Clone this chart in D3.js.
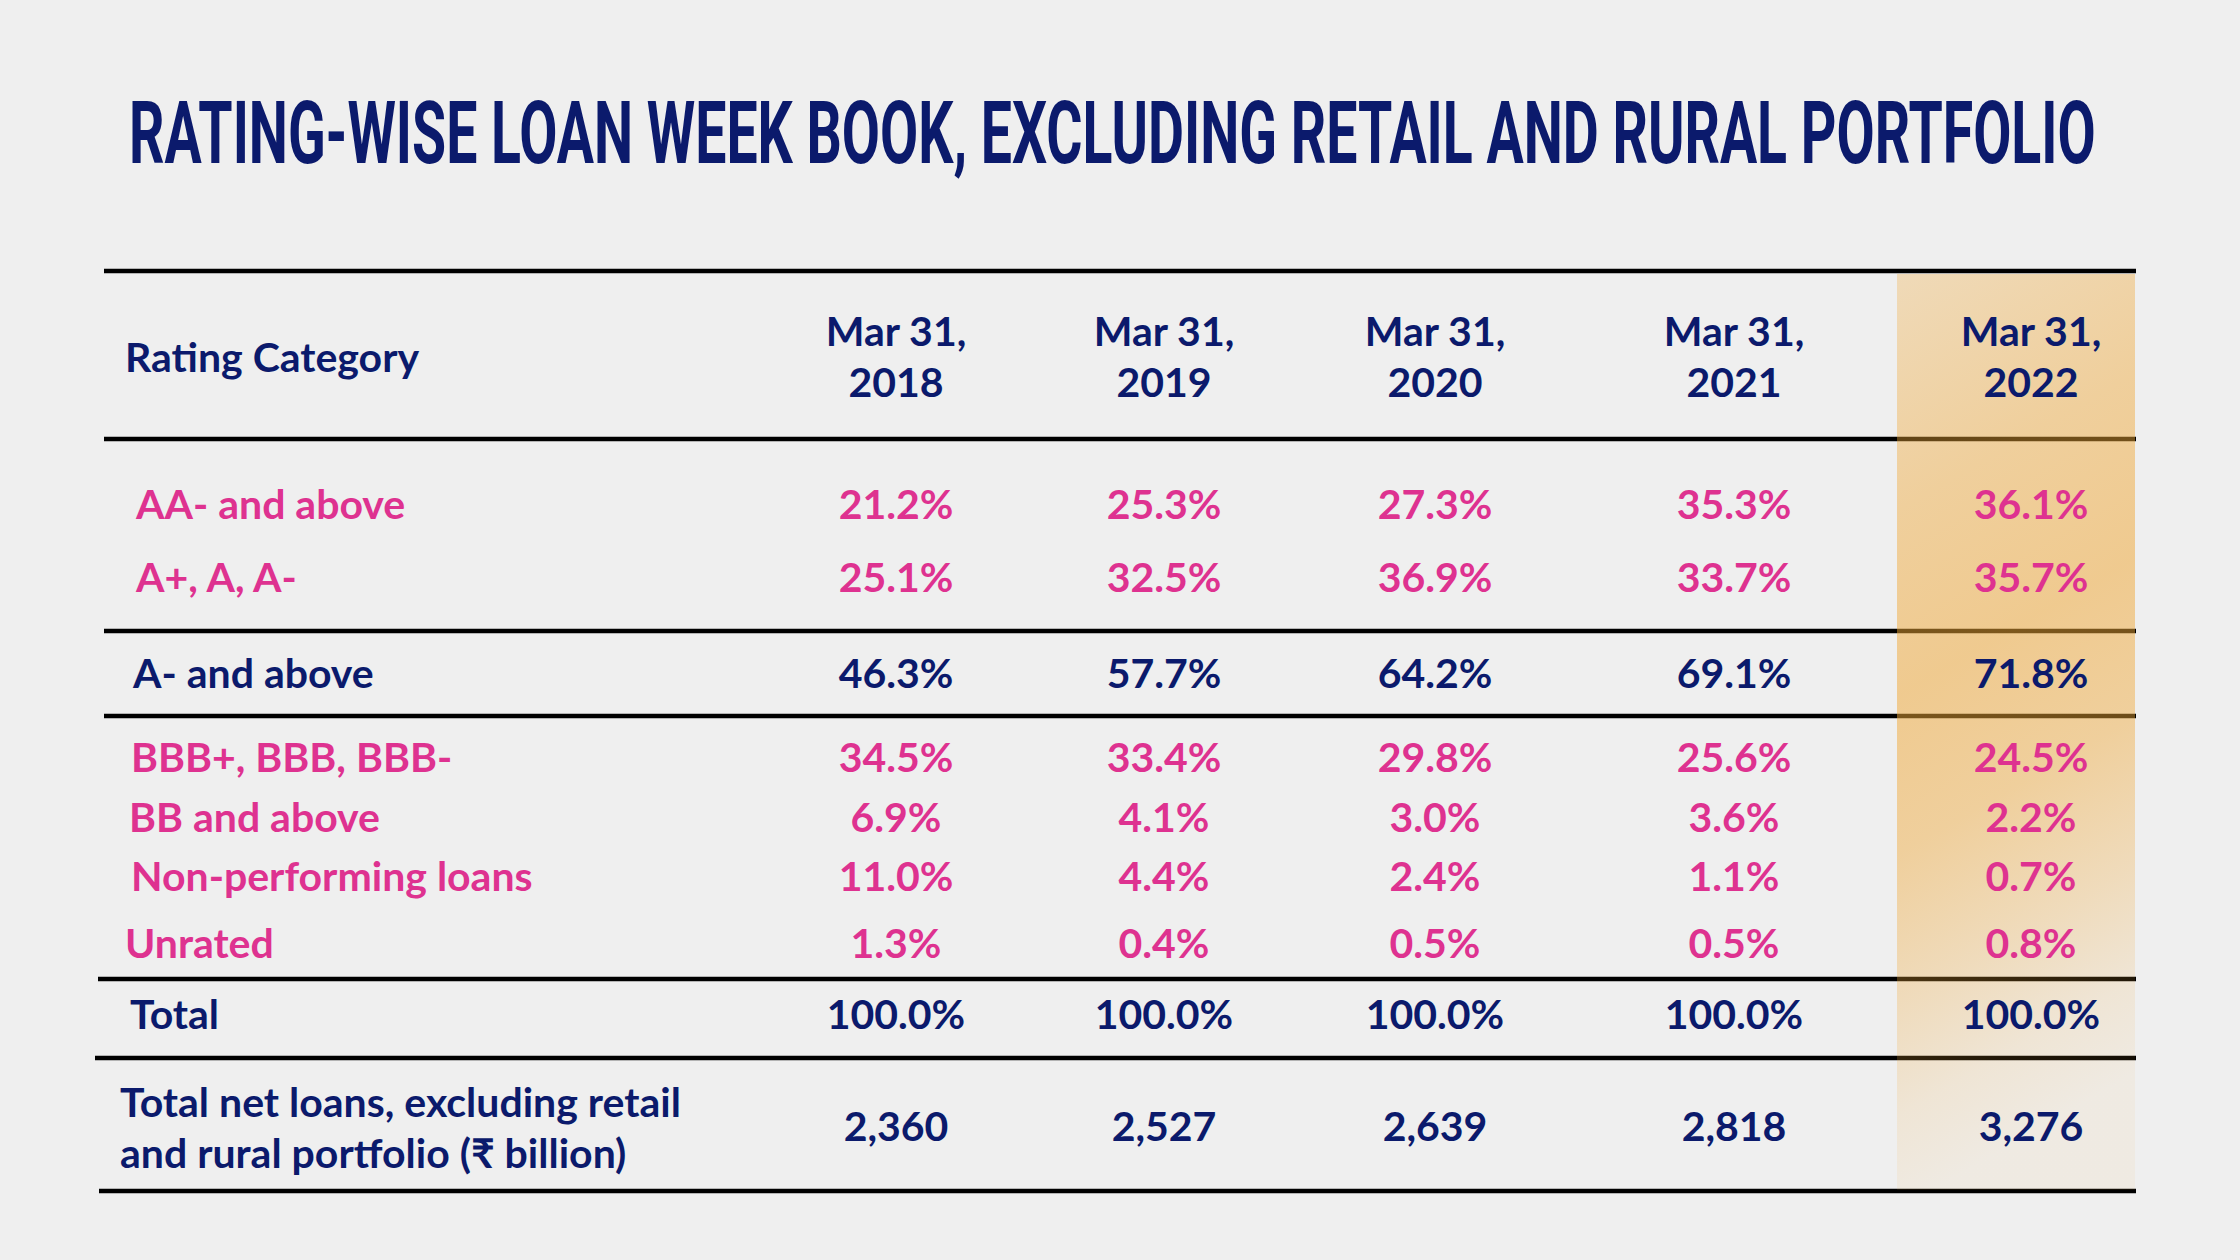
<!DOCTYPE html>
<html>
<head>
<meta charset="utf-8">
<script src="https://cdn.jsdelivr.net/npm/d3@7"></script>
<style>
  html, body { margin: 0; padding: 0; background: #efefef; }
  svg { display: block; }
</style>
</head>
<body>
<svg id="chart" width="2240" height="1260"></svg>
<script>
// ---------- data ----------
const title = "RATING-WISE LOAN WEEK BOOK, EXCLUDING RETAIL AND RURAL PORTFOLIO";
const headerLabel = "Rating Category";
const years = ["2018", "2019", "2020", "2021", "2022"];
const categories = ["AA- and above", "A+, A, A-", "A- and above", "BBB+, BBB, BBB-",
                    "BB and above", "Non-performing loans", "Unrated", "Total"];
const aaAndAbove   = [21.2, 25.3, 27.3, 35.3, 36.1];
const aPlusAMinus  = [25.1, 32.5, 36.9, 33.7, 35.7];
const aMinusAbove  = [46.3, 57.7, 64.2, 69.1, 71.8];
const bbbGroup     = [34.5, 33.4, 29.8, 25.6, 24.5];
const bbAndAbove   = [6.9, 4.1, 3.0, 3.6, 2.2];
const nonPerforming = [11.0, 4.4, 2.4, 1.1, 0.7];
const unrated      = [1.3, 0.4, 0.5, 0.5, 0.8];
const totals       = [100.0, 100.0, 100.0, 100.0, 100.0];
const netLoansLabel = ["Total net loans, excluding retail", "and rural portfolio (\u20B9 billion)"];
const netLoans     = [2360, 2527, 2639, 2818, 3276];

// ---------- styling / layout ----------
const NAVY = "#0b1a6c", PINK = "#de3290";
const FONT = "Lato, 'Open Sans', sans-serif";
const FS = 41;
const seriesByCat = [aaAndAbove, aPlusAMinus, aMinusAbove, bbbGroup, bbAndAbove, nonPerforming, unrated, totals];
const kindByCat = ["sub", "sub", "sum", "sub", "sub", "sub", "sub", "sum"];

const svg = d3.select("#chart");
svg.append("rect").attr("width", 2240).attr("height", 1260).attr("fill", "#efefef");

// column x positions
const xCol = d3.scaleOrdinal().domain(years).range([896, 1164, 1435, 1734, 2031]);
// row baselines
const yRow = d3.scaleOrdinal().domain(categories).range([519, 592, 688, 772, 832, 891, 958, 1029]);
const labelX = d3.scaleOrdinal().domain(categories).range([136, 136, 133, 131, 129, 131, 125, 130]);

const pct = v => d3.format(".1f")(v) + "%";
const num = d3.format(",");

// title (condensed by horizontal scaling to the reference width)
const t = svg.append("text")
  .attr("x", 0).attr("y", 0)
  .attr("font-family", "'Liberation Sans Narrow', Roboto, 'Liberation Sans', sans-serif")
  .attr("font-weight", 700).attr("font-size", 87)
  .attr("fill", NAVY)
  .text(title);
const tw = t.node().getComputedTextLength();
t.attr("transform", `translate(129,163) scale(${1967 / tw},1)`);

// rules
const rules = [
  {y: 271, x0: 104}, {y: 439, x0: 104}, {y: 631, x0: 104}, {y: 716, x0: 104},
  {y: 979, x0: 98}, {y: 1058, x0: 95}, {y: 1191, x0: 99}
];
svg.append("g").selectAll("line").data(rules).join("line")
  .attr("x1", d => d.x0).attr("x2", 2136)
  .attr("y1", d => d.y).attr("y2", d => d.y)
  .attr("stroke", "#000").attr("stroke-width", 4.5);

// highlight column (semi-transparent, drawn over rules)
const defs = svg.append("defs");
const grad = defs.append("linearGradient").attr("id", "hl")
  .attr("x1", 0).attr("y1", 0).attr("x2", 0.15).attr("y2", 1);
[[0, 0.30], [0.25, 0.45], [0.45, 0.52], [0.62, 0.45], [0.78, 0.28], [0.9, 0.14], [1, 0.07]]
  .forEach(([o, a]) => grad.append("stop").attr("offset", o)
    .attr("stop-color", "rgb(240,168,55)").attr("stop-opacity", a));
svg.append("rect")
  .attr("x", 1897).attr("y", 274).attr("width", 238).attr("height", 916)
  .attr("fill", "url(#hl)");

// header
const g = svg.append("g").attr("font-family", FONT).attr("font-weight", 700).attr("font-size", FS);
g.append("text").attr("x", 125).attr("y", 372).attr("fill", NAVY).text(headerLabel);
const hdr = g.append("g").selectAll("text").data(years).join("text")
  .attr("x", d => xCol(d)).attr("text-anchor", "middle").attr("fill", NAVY);
hdr.append("tspan").attr("x", d => xCol(d)).attr("y", 346).text("Mar 31,");
hdr.append("tspan").attr("x", d => xCol(d)).attr("y", 397).text(d => d);

// category labels
g.append("g").selectAll("text").data(categories).join("text")
  .attr("x", d => labelX(d)).attr("y", d => yRow(d))
  .attr("fill", (d, i) => kindByCat[i] === "sub" ? PINK : NAVY)
  .text(d => d);

// values
categories.forEach((cat, i) => {
  g.append("g").selectAll("text").data(seriesByCat[i]).join("text")
    .attr("x", (d, j) => xCol(years[j])).attr("y", yRow(cat))
    .attr("text-anchor", "middle")
    .attr("fill", kindByCat[i] === "sub" ? PINK : NAVY)
    .text(d => pct(d));
});

// net loans row
g.append("g").selectAll("text").data(netLoansLabel).join("text")
  .attr("x", 120).attr("y", (d, i) => 1117 + i * 51)
  .attr("fill", NAVY).text(d => d);
g.append("g").selectAll("text").data(netLoans).join("text")
  .attr("x", (d, j) => xCol(years[j])).attr("y", 1141)
  .attr("text-anchor", "middle").attr("fill", NAVY)
  .text(d => num(d));
</script>
</body>
</html>
